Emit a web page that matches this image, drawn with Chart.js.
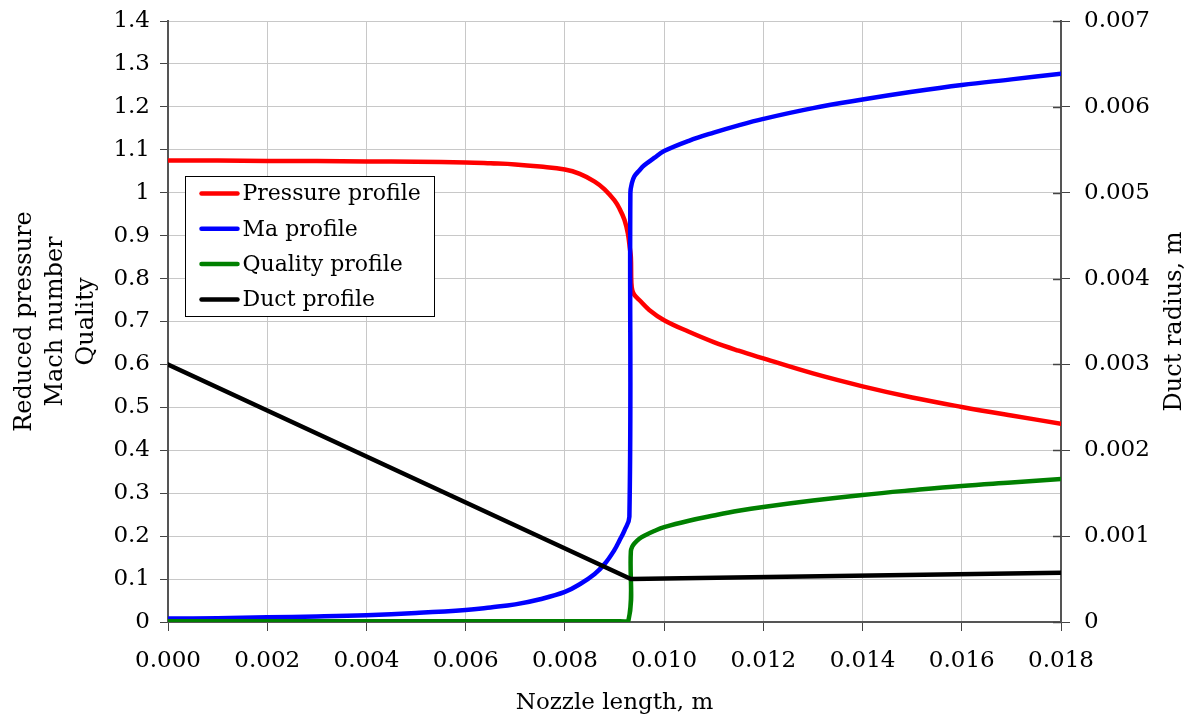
<!DOCTYPE html>
<html>
<head>
<meta charset="utf-8">
<script src="https://cdn.jsdelivr.net/npm/chart.js@4.4.1/dist/chart.umd.min.js"></script>
<style>
  html, body { margin: 0; padding: 0; background: #fff; }
  #chart { display: block; }
</style>
</head>
<body>
<canvas id="chart" width="1194" height="716"></canvas>
<script>
(function(){
	'use strict';

	// nozzle length (m) / reduced pressure
	var pressureX = [0, 0.001, 0.002, 0.003, 0.004, 0.005, 0.006, 0.0065, 0.007, 0.0075, 0.008, 0.0083, 0.0086, 0.0088, 0.009, 0.0091, 0.0092, 0.00927, 0.00931, 0.00933, 0.00934, 0.00936, 0.0094, 0.0095, 0.0097, 0.010, 0.0105, 0.011, 0.0115, 0.012, 0.013, 0.014, 0.015, 0.016, 0.017, 0.018];
	var pressureY = [1.075, 1.075, 1.074, 1.074, 1.073, 1.072, 1.0705, 1.0685, 1.066, 1.061, 1.054, 1.044, 1.026, 1.008, 0.982, 0.963, 0.937, 0.905, 0.87, 0.85, 0.79, 0.772, 0.762, 0.75, 0.727, 0.703, 0.676, 0.652, 0.632, 0.614, 0.579, 0.549, 0.523, 0.501, 0.481, 0.462];

	// Mach number
	var machX = [0, 0.001, 0.002, 0.003, 0.004, 0.005, 0.006, 0.0065, 0.007, 0.0075, 0.008, 0.0083, 0.0086, 0.0088, 0.009, 0.0091, 0.0092, 0.0093, 0.00932, 0.00935, 0.0094, 0.0095, 0.0096, 0.0098, 0.010, 0.0105, 0.011, 0.0115, 0.012, 0.013, 0.014, 0.015, 0.016, 0.017, 0.018];
	var machY = [0.008, 0.009, 0.011, 0.013, 0.016, 0.021, 0.028, 0.034, 0.041, 0.053, 0.07, 0.088, 0.112, 0.135, 0.168, 0.19, 0.213, 0.245, 1.0, 1.022, 1.038, 1.052, 1.064, 1.081, 1.097, 1.121, 1.14, 1.157, 1.172, 1.197, 1.217, 1.235, 1.251, 1.264, 1.277];

	// vapour quality
	var qualityX = [0, 0.002, 0.004, 0.006, 0.008, 0.009, 0.00928, 0.00933, 0.00936, 0.0094, 0.0095, 0.0096, 0.0098, 0.010, 0.0105, 0.011, 0.0115, 0.012, 0.013, 0.014, 0.015, 0.016, 0.017, 0.018];
	var qualityY = [0.002, 0.002, 0.002, 0.002, 0.002, 0.002, 0.003, 0.165, 0.176, 0.183, 0.194, 0.201, 0.212, 0.221, 0.236, 0.248, 0.259, 0.268, 0.283, 0.296, 0.307, 0.317, 0.325, 0.333];

	// duct radius (m), right axis
	var ductX = [0, 0.00933, 0.018];
	var ductY = [0.0030, 0.0005, 0.000575];

	var seriesNames = ['Pressure profile', 'Ma profile', 'Quality profile', 'Duct profile'];
	var seriesColors = ['#ff0000', '#0000ff', '#008000', '#000000'];

	var FONT = "'DejaVu Serif', serif";
	Chart.defaults.font.family = FONT;
	Chart.defaults.color = '#000';

	function pts(xs, ys){
		return xs.map(function(x, i){ return { x: x, y: ys[i] }; });
	}

	function line(i, data, axis, tension){
		return {
			label: seriesNames[i],
			data: data,
			yAxisID: axis,
			borderColor: seriesColors[i],
			backgroundColor: seriesColors[i],
			borderWidth: 4.5,
			borderJoinStyle: 'round',
			borderCapStyle: 'round',
			pointRadius: 0,
			showLine: true,
			tension: tension,
			order: 4 - i
		};
	}

	// legend box inside the plot area
	var legendBox = {
		id: 'legendBox',
		afterDraw: function(chart){
			var ctx = chart.ctx, a = chart.chartArea;
			var bx = a.left + 17.5, by = a.top + 155.5, bw = 249, bh = 140;
			ctx.save();
			ctx.fillStyle = '#fff';
			ctx.fillRect(bx, by, bw, bh);
			ctx.strokeStyle = '#000';
			ctx.lineWidth = 1;
			ctx.strokeRect(bx, by, bw, bh);
			ctx.font = '22px ' + FONT;
			ctx.textBaseline = 'middle';
			ctx.textAlign = 'left';
			seriesNames.forEach(function(name, i){
				var y = by + 17 + i * 35.3;
				ctx.strokeStyle = seriesColors[i];
				ctx.lineWidth = 4.5;
				ctx.lineCap = 'round';
				ctx.beginPath();
				ctx.moveTo(bx + 16, y);
				ctx.lineTo(bx + 52, y);
				ctx.stroke();
				ctx.fillStyle = '#000';
				ctx.fillText(name, bx + 57, y + 1);
			});
			ctx.restore();
		}
	};

	// right title reads bottom-to-top, plus tick marks crossing the right axis
	var rightAxisExtras = {
		id: 'rightAxisExtras',
		afterDraw: function(chart){
			var ctx = chart.ctx, a = chart.chartArea, s = chart.scales.y1;
			ctx.save();
			ctx.strokeStyle = '#444';
			ctx.lineWidth = 1.5;
			s.ticks.forEach(function(t){
				var py = Math.round(s.getPixelForValue(t.value)) + 0.5;
				ctx.beginPath();
				ctx.moveTo(a.right - 8, py);
				ctx.lineTo(a.right, py);
				ctx.stroke();
			});
			ctx.translate(a.right + 114, (a.top + a.bottom) / 2);
			ctx.rotate(-Math.PI / 2);
			ctx.font = '24px ' + FONT;
			ctx.fillStyle = '#000';
			ctx.textAlign = 'center';
			ctx.textBaseline = 'middle';
			ctx.fillText('Duct radius, m', 0, 0);
			ctx.restore();
		}
	};

	var ctx = document.getElementById('chart').getContext('2d');
	var myChart = new Chart(ctx, {
		type: 'scatter',
		data: {
			datasets: [
				line(0, pts(pressureX, pressureY), 'y', 0.4),
				line(1, pts(machX, machY), 'y', 0.4),
				line(2, pts(qualityX, qualityY), 'y', 0.4),
				line(3, pts(ductX, ductY), 'y1', 0)
			]
		},
		options: {
			responsive: false,
			animation: false,
			devicePixelRatio: 1,
			layout: { padding: { top: 21, left: 0, right: 0, bottom: 0 } },
			plugins: {
				legend: { display: false },
				tooltip: { enabled: false }
			},
			scales: {
				x: {
					type: 'linear',
					min: 0, max: 0.018,
					afterFit: function(s){ s.height = 94; },
					ticks: {
						stepSize: 0.002,
						font: { size: 23 },
						padding: 16,
						maxRotation: 0,
						callback: function(v){ return v.toFixed(3); }
					},
					grid: { color: '#c8c8c8', lineWidth: 1, tickLength: 9, tickColor: '#444' },
					border: { color: '#555', width: 2 },
					title: {
						display: true,
						text: 'Nozzle length, m',
						font: { size: 23, lineHeight: 1.1 },
						padding: { top: 0, bottom: 0 }
					}
				},
				y: {
					position: 'left',
					min: 0, max: 1.4,
					afterFit: function(s){ s.width = 168; },
					ticks: {
						stepSize: 0.1,
						font: { size: 23, lineHeight: 0.6 },
						padding: 10,
						callback: function(v){ return String(Number(v.toFixed(1))); }
					},
					grid: { color: '#c8c8c8', lineWidth: 1, tickLength: 8, tickColor: '#444' },
					border: { color: '#555', width: 2 },
					title: {
						display: true,
						text: ['Reduced pressure', 'Mach number', 'Quality'],
						font: { size: 24, lineHeight: 1.3 },
						padding: { top: 9, bottom: 0 }
					}
				},
				y1: {
					position: 'right',
					min: 0, max: 0.007,
					afterFit: function(s){ s.width = 133; },
					ticks: {
						stepSize: 0.001,
						font: { size: 23, lineHeight: 0.6 },
						padding: 14,
						callback: function(v){ return v === 0 ? '0' : v.toFixed(3); }
					},
					grid: { drawOnChartArea: false, tickLength: 9, tickColor: '#444' },
					border: { color: '#555', width: 2 }
				}
			}
		},
		plugins: [legendBox, rightAxisExtras]
	});
})();
</script>
</body>
</html>
